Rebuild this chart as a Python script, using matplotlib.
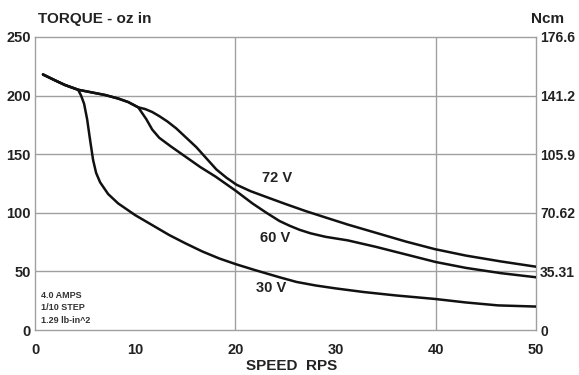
import matplotlib
matplotlib.use("Agg")
import matplotlib.pyplot as plt

plt.rcParams['font.family'] = ['Liberation Sans', 'DejaVu Sans']
plt.rcParams['font.weight'] = 'bold'

# speed (rps) vs torque (oz-in)
speed_30v = [0.8, 2.0, 3.0, 4.3, 4.6, 4.9, 5.2, 5.5, 5.8, 6.1, 6.5, 7.3, 8.3,
             10.0, 11.7, 13.4, 15.0, 16.7, 18.4, 20.1, 22.0, 24.4, 26.1, 28.0,
             30.0, 32.8, 36.0, 39.9, 43.0, 46.2, 50.0]
torque_30v = [218, 213, 209, 205, 200, 193, 180, 162, 145, 134, 126, 116, 108,
              98, 89.5, 81, 74, 67, 61, 56, 51, 45, 41, 38,
              35.5, 32.4, 29.5, 26.5, 23.5, 21, 20]

speed_60v = [0.8, 2.0, 3.0, 4.3, 5.5, 7.0, 8.3, 9.3, 10.3, 11.1, 11.7, 12.4,
             13.5, 15.0, 16.5, 18.0, 20.0, 21.7, 23.1, 24.4, 25.4, 26.4, 27.5,
             29.0, 31.2, 34.0, 37.0, 40.0, 43.0, 46.5, 50.0]
torque_60v = [218, 213, 209, 205, 203, 200.5, 197.5, 194.5, 190, 180, 171, 164,
              157, 148, 139, 131, 119, 108, 100, 93, 89, 85.5, 82.5,
              79.5, 76.5, 71, 64.5, 58, 53, 48.5, 45]

speed_72v = [0.8, 2.0, 3.0, 4.3, 5.5, 7.0, 8.3, 9.3, 10.3, 11.0, 11.7, 12.4,
             13.2, 14.1, 15.1, 16.1, 17.1, 18.1, 19.1, 20.1, 21.5, 23.4, 25.0,
             27.0, 29.0, 31.2, 34.0, 37.0, 39.9, 43.0, 46.5, 50.0]
torque_72v = [218, 213, 209, 205, 203, 200.5, 197.5, 194.5, 190, 188.5, 186, 182.5,
              178, 172, 164, 156, 146.5, 137, 130, 124, 118.5, 112.5, 107.5,
              101.5, 96, 90, 83, 75.5, 69, 63.5, 58.5, 54]

left_ticks = [0, 50, 100, 150, 200, 250]
right_labels = ['0', '35.31', '70.62', '105.9', '141.2', '176.6']
x_ticks = [0, 10, 20, 30, 40, 50]

fig = plt.figure(figsize=(5.79, 3.75), dpi=100)
ax = fig.add_axes([35 / 579, 45 / 375, 501 / 579, 293 / 375])

grid_c = '#a0a0a0'
for y in [50, 100, 150, 200]:
    ax.axhline(y, color=grid_c, lw=1, zorder=1)
for x in [20, 40]:
    ax.axvline(x, color=grid_c, lw=1, zorder=1)

for s, t in [(speed_30v, torque_30v), (speed_60v, torque_60v), (speed_72v, torque_72v)]:
    ax.plot(s, t, color='#111111', lw=1.8, solid_joinstyle='round',
            solid_capstyle='round', zorder=3)

ax.set_xlim(0, 50)
ax.set_ylim(0, 250)
for sp in ax.spines.values():
    sp.set_color(grid_c)
    sp.set_linewidth(1)

ax.set_xticks(x_ticks)
ax.set_yticks(left_ticks)
ax.tick_params(length=0, labelsize=10.5, colors='#222222')
ax.tick_params(axis='x', pad=9)
ax.tick_params(axis='y', pad=3)

ax2 = ax.twinx()
ax2.set_ylim(0, 250)
ax2.set_yticks(left_ticks)
ax2.set_yticklabels(right_labels, family=['Liberation Sans Narrow', 'Liberation Sans'],
                    fontsize=10, fontweight='bold', color='#222222')
ax2.tick_params(length=0, pad=3)
for sp in ax2.spines.values():
    sp.set_visible(False)

ax.text(24.2, 130, '72 V', fontsize=10.5, ha='center', va='center', color='#222222')
ax.text(24.0, 78.5, '60 V', fontsize=10.5, ha='center', va='center', color='#222222')
ax.text(23.6, 36, '30 V', fontsize=10.5, ha='center', va='center', color='#222222')

ax.text(0.6, 33, '4.0 AMPS\n1/10 STEP\n1.29 lb-in^2', fontsize=6.5, ha='left', va='top',
        color='#333333', linespacing=1.45)

fig.text(38 / 579, 1 - 19 / 375, 'TORQUE - oz in', fontsize=11, ha='left', va='center',
         color='#222222')
fig.text(548 / 579, 1 - 19 / 375, 'Ncm', fontsize=11, ha='center', va='center',
         color='#222222')
fig.text(292 / 579, 1 - 366 / 375, 'SPEED  RPS', fontsize=11, ha='center', va='center',
         color='#222222')

fig.savefig('out.png', dpi=100, facecolor='white')
